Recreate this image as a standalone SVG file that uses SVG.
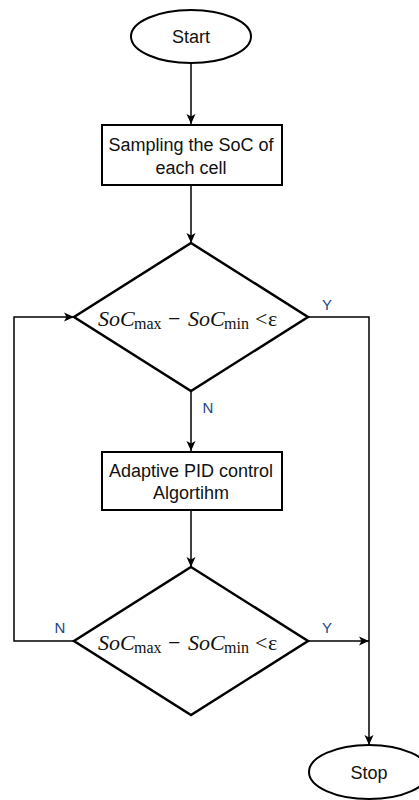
<svg xmlns="http://www.w3.org/2000/svg" width="419" height="800" viewBox="0 0 419 800">
<defs>
<marker id="arr" viewBox="0 0 10 10" refX="10" refY="5" markerWidth="10" markerHeight="10" markerUnits="userSpaceOnUse" orient="auto">
<path d="M0,0.5 L10,5 L0,9.5 L2.5,5 Z" fill="#000"/>
</marker>
</defs>
<style>
.shape{fill:#fff;stroke:#000;stroke-width:2}
.dia{fill:#fff;stroke:#000;stroke-width:2.5}
.lbl{font-family:"Liberation Sans",Arial,sans-serif;font-size:18px;fill:#111;text-anchor:middle}
.yn{font-family:"Liberation Sans",Arial,sans-serif;font-size:15px;fill:#24467f;text-anchor:middle}
.m{font-family:"Liberation Serif","Times New Roman",serif;font-size:22px;fill:#111}
.it{font-style:italic}
.sub{font-size:16px}
.conn{fill:none;stroke:#000;stroke-width:1.5}
</style>
<rect width="419" height="800" fill="#fff"/>
<g id="connectors">
<line class="conn" x1="191" y1="63" x2="191" y2="124" marker-end="url(#arr)"/>
<line class="conn" x1="191" y1="185" x2="191" y2="243" marker-end="url(#arr)"/>
<line class="conn" x1="191" y1="391" x2="191" y2="451" marker-end="url(#arr)"/>
<line class="conn" x1="191" y1="510" x2="191" y2="567" marker-end="url(#arr)"/>
<polyline class="conn" points="308,317 369,317 369,745" marker-end="url(#arr)"/>
<line class="conn" x1="308" y1="641" x2="369" y2="641" marker-end="url(#arr)"/>
<polyline class="conn" points="74,641 14,641 14,317 74,317" marker-end="url(#arr)"/>
<text class="yn" x="327" y="310">Y</text>
<text class="yn" x="208" y="413">N</text>
<text class="yn" x="327" y="633">Y</text>
<text class="yn" x="60" y="633">N</text>
</g>
<g id="start">
<ellipse class="shape" cx="191" cy="36.5" rx="60" ry="26.5"/>
<text class="lbl" x="191" y="43">Start</text>
</g>
<g id="sampling">
<rect class="shape" x="102" y="125" width="180" height="60"/>
<text class="lbl" x="191" y="151">Sampling the SoC of</text>
<text class="lbl" x="191" y="174">each cell</text>
</g>
<g id="decision1">
<polygon class="dia" points="191,243 308,317 191,391 74,317"/>
<text class="m"><tspan class="it" x="98" y="326">SoC</tspan><tspan class="sub" x="134" y="329">max</tspan><tspan x="168" y="326">−</tspan><tspan class="it" x="188" y="326">SoC</tspan><tspan class="sub" x="224" y="329">min</tspan><tspan x="255" y="326">&lt;</tspan><tspan x="268" y="326">ε</tspan></text>
</g>
<g id="pid">
<rect class="shape" x="102" y="452" width="180" height="58"/>
<text class="lbl" x="191" y="477">Adaptive PID control</text>
<text class="lbl" x="191" y="499">Algortihm</text>
</g>
<g id="decision2">
<polygon class="dia" points="191,567 308,641 191,715 74,641"/>
<text class="m"><tspan class="it" x="98" y="650">SoC</tspan><tspan class="sub" x="134" y="653">max</tspan><tspan x="168" y="650">−</tspan><tspan class="it" x="188" y="650">SoC</tspan><tspan class="sub" x="224" y="653">min</tspan><tspan x="255" y="650">&lt;</tspan><tspan x="268" y="650">ε</tspan></text>
</g>
<g id="stop">
<ellipse class="shape" cx="369" cy="772" rx="60" ry="27"/>
<text class="lbl" x="369" y="779">Stop</text>
</g>
</svg>
